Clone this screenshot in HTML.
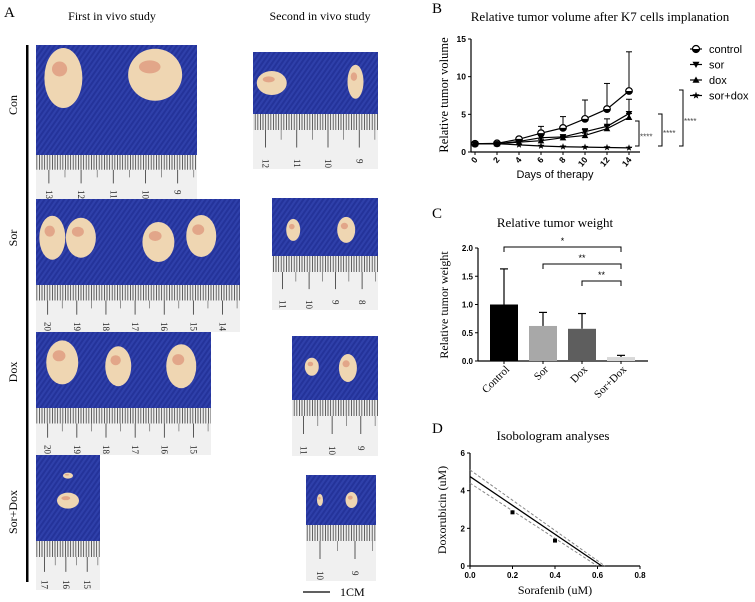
<!DOCTYPE html>
<html><head><meta charset="utf-8">
<style>
html,body{margin:0;padding:0;background:#fff;}
svg{display:block;font-family:"Liberation Serif",serif;}
.sans{font-family:"Liberation Sans",sans-serif;}
</style></head>
<body>
<svg id="fig" width="755" height="602" viewBox="0 0 755 602" xmlns="http://www.w3.org/2000/svg">
<defs>
<pattern id="weave" width="4" height="4" patternUnits="userSpaceOnUse" patternTransform="rotate(35)">
<rect width="4" height="4" fill="#24339a"/><rect width="2" height="4" fill="#2f40aa"/>
</pattern>
<pattern id="mm" width="2.6" height="20" patternUnits="userSpaceOnUse">
<rect width="2.6" height="20" fill="#eeeeee"/><rect width="0.8" height="20" fill="#444"/>
</pattern>
</defs>
<g id="panelA">
<text x="4" y="17" font-size="15">A</text>
<text x="112" y="20" font-size="12" text-anchor="middle">First in vivo study</text>
<text x="320" y="20" font-size="12" text-anchor="middle">Second in vivo study</text>
<rect x="26" y="45" width="2.5" height="537" fill="#000"/>
<text transform="translate(17,105) rotate(-90)" font-size="12" text-anchor="middle">Con</text>
<text transform="translate(17,238) rotate(-90)" font-size="12" text-anchor="middle">Sor</text>
<text transform="translate(17,372) rotate(-90)" font-size="12" text-anchor="middle">Dox</text>
<text transform="translate(17,512) rotate(-90)" font-size="12" text-anchor="middle">Sor+Dox</text>
<line x1="303" y1="592" x2="330" y2="592" stroke="#000" stroke-width="1.2"/>
<text x="340" y="596" font-size="12">1CM</text>
</g>
<g id="panelB"></g>
<g id="panelC"></g>
<g id="panelD"></g>
</svg>
<script>
// ---- Panel B data ----
const daysB = [0,2,4,6,8,10,12,14];
const yTicksB = [0,5,10,15];
const controlVals = [1.1,1.15,1.7,2.5,3.2,4.4,5.7,8.1];
const controlErr = [0.1,0.1,0.2,0.9,1.5,2.5,3.4,5.2];
const sorVals = [1.1,1.1,1.4,1.9,2.0,2.7,3.4,5.1];
const sorErr = [0.1,0.1,0.2,0.3,0.3,0.4,1.0,1.9];
const doxVals = [1.1,1.1,1.3,1.5,1.9,2.2,3.1,4.6];
const doxErr = [0.1,0.1,0.1,0.2,0.2,0.3,0.4,0.5];
const comboVals = [1.1,1.1,0.95,0.8,0.7,0.65,0.6,0.55];
const comboErr = [0.1,0.1,0.1,0.05,0.05,0.05,0.05,0.05];
const legendNames = ["control","sor","dox","sor+dox"];
// ---- Panel C data ----
const catsC = ["Control","Sor","Dox","Sor+Dox"];
const weightVals = [1.0,0.62,0.57,0.07];
const weightErr = [0.63,0.24,0.27,0.03];
const yTicksC = ["0.0","0.5","1.0","1.5","2.0"];
// ---- Panel D data ----
const xTicksD = ["0.0","0.2","0.4","0.6","0.8"];
const yTicksD = [0,2,4,6];
const isoLine = [[0,4.75],[0.62,0]];
const isoUpper = [[0,5.1],[0.635,0]];
const isoLower = [[0,4.4],[0.6,0]];
const comboPtsX = [0.2,0.4];
const comboPtsY = [2.85,1.35];

const NS="http://www.w3.org/2000/svg";
function mk(parent,tag,attrs,text){const e=document.createElementNS(NS,tag);for(const k in attrs)e.setAttribute(k,attrs[k]);if(text!==undefined)e.textContent=text;parent.appendChild(e);return e;}

// ---- Photos ----
const A=document.getElementById('panelA');
function photo(name,x,y,w,bh,rh,tumors,nums){
  const g=mk(A,'g',{});
  
  
  mk(g,'rect',{x:x,y:y,width:w,height:bh,fill:'url(#weave)'});
  tumors.forEach(t=>{
    const el=mk(g,'ellipse',{cx:x+t[0]*w,cy:y+t[1]*bh,rx:t[2],ry:t[3],fill:'#efd6b2'});
    
    
    mk(g,'ellipse',{cx:x+t[0]*w-t[2]*0.2,cy:y+t[1]*bh-t[3]*0.3,rx:t[2]*0.4,ry:t[3]*0.25,fill:'#d0604a',opacity:0.4});
  });
  const th=Math.min(16,rh*0.33);
  mk(g,'rect',{x:x,y:y+bh,width:w,height:th,fill:'url(#mm)'});
  mk(g,'rect',{x:x,y:y+bh+th,width:w,height:rh-th,fill:'#f0f0f0'});
  const n=nums.length, step=w/(n);
  nums.forEach((s,i)=>{
    const lx=x+step*(i+0.4);
    mk(g,'line',{x1:lx,y1:y+bh+th,x2:lx,y2:y+bh+th+(rh-th)*0.45,stroke:'#333','stroke-width':0.8});
    mk(g,'line',{x1:lx+step/2,y1:y+bh+th,x2:lx+step/2,y2:y+bh+th+(rh-th)*0.25,stroke:'#555','stroke-width':0.6});
    mk(g,'text',{transform:`translate(${lx-3},${y+bh+rh-10}) rotate(90)`,'font-size':9,fill:'#222'},s);
  });
}
photo('photo-con-first',36,45,161,110,45,[[0.17,0.3,19,30],[0.74,0.27,27,26]],['13','12','11','10','9']);
photo('photo-sor-first',36,199,204,86,47,[[0.08,0.45,13,22],[0.22,0.45,15,20],[0.6,0.5,16,20],[0.81,0.43,15,21]],['20','19','18','17','16','15','14']);
photo('photo-dox-first',36,332,175,76,47,[[0.15,0.4,16,22],[0.47,0.45,13,20],[0.83,0.45,15,22]],['20','19','18','17','16','15']);
photo('photo-combo-first',36,455,64,86,49,[[0.5,0.24,5,3],[0.5,0.53,11,8]],['17','16','15']);
photo('photo-con-second',253,52,125,62,55,[[0.15,0.5,15,12],[0.82,0.48,8,17]],['12','11','10','9']);
photo('photo-sor-second',272,198,106,58,54,[[0.2,0.55,7,11],[0.7,0.55,9,13]],['11','10','9','8']);
photo('photo-dox-second',292,336,86,64,56,[[0.23,0.48,7,9],[0.65,0.5,9,14]],['11','10','9']);
photo('photo-combo-second',306,475,70,50,56,[[0.2,0.5,3,6],[0.65,0.5,6,8]],['10','9']);

// ---- Panel B ----
const B=document.getElementById('panelB');
const bx0=471,bxE=640,by0=152,by15=39;
const xB=d=>475+(d/14)*(629-475);
const yB=v=>by0-(v/15)*(by0-by15);
mk(B,'text',{x:432,y:13,'font-size':15},'B');
const tB=mk(B,'text',{x:600,y:21,'font-size':13,'text-anchor':'middle'},'Relative tumor volume after K7 cells implanation');

mk(B,'line',{x1:bx0,y1:by15,x2:bx0,y2:by0,stroke:'#000','stroke-width':1.2});
mk(B,'line',{x1:bx0,y1:by0,x2:bxE,y2:by0,stroke:'#000','stroke-width':1.2});
yTicksB.forEach(v=>{
  mk(B,'line',{x1:bx0-3,y1:yB(v),x2:bx0,y2:yB(v),stroke:'#000'});
  const t=mk(B,'text',{x:bx0-5,y:yB(v)+3,'font-size':8.5,'text-anchor':'end','font-weight':'bold',class:'sans'},String(v));
  
});
daysB.forEach(d=>{
  mk(B,'line',{x1:xB(d),y1:by0,x2:xB(d),y2:by0+3,stroke:'#000'});
  const t=mk(B,'text',{transform:`translate(${xB(d)+3},${by0+8}) rotate(-50)`,'font-size':8.5,'text-anchor':'end','font-weight':'bold',class:'sans'},String(d));
  
});
const xlB=mk(B,'text',{x:555,y:178,'font-size':11,'text-anchor':'middle',class:'sans'},'Days of therapy');

const ylB=mk(B,'text',{transform:'translate(448,95) rotate(-90)','font-size':12.5,'text-anchor':'middle'},'Relative tumor volume');

function marker(g,type,x,y,s){
  if(type===0){mk(g,'circle',{cx:x,cy:y,r:s,fill:'#fff',stroke:'#000','stroke-width':1.2});mk(g,'path',{d:`M${x-s} ${y} A${s} ${s} 0 0 0 ${x+s} ${y}Z`,fill:'#000'});}
  else if(type===1)mk(g,'path',{d:`M${x-s} ${y-s*0.8}L${x+s} ${y-s*0.8}L${x} ${y+s}Z`,fill:'#000'});
  else if(type===2)mk(g,'path',{d:`M${x-s} ${y+s*0.8}L${x+s} ${y+s*0.8}L${x} ${y-s}Z`,fill:'#000'});
  else {let p='';for(let i=0;i<10;i++){const r=i%2?s*0.45:s*1.1,a=-Math.PI/2+i*Math.PI/5;p+=(i?'L':'M')+(x+r*Math.cos(a))+' '+(y+r*Math.sin(a));}mk(g,'path',{d:p+'Z',fill:'#000'});}
}
const seriesB=[[controlVals,controlErr],[sorVals,sorErr],[doxVals,doxErr],[comboVals,comboErr]];
seriesB.forEach((s,si)=>{
  const g=mk(B,'g',{});
  
  
  mk(g,'polyline',{points:daysB.map((d,i)=>xB(d)+','+yB(s[0][i])).join(' '),fill:'none',stroke:'#000','stroke-width':1.2});
  daysB.forEach((d,i)=>{
    const top=yB(s[0][i]+s[1][i]);
    mk(g,'line',{x1:xB(d),y1:yB(s[0][i]),x2:xB(d),y2:top,stroke:'#000','stroke-width':1});
    mk(g,'line',{x1:xB(d)-3,y1:top,x2:xB(d)+3,y2:top,stroke:'#000','stroke-width':1});
    marker(g,si,xB(d),yB(s[0][i]),3.3);
  });
});
legendNames.forEach((n,i)=>{
  const y=49+i*15.5;
  const g=mk(B,'g',{});
  
  
  mk(g,'line',{x1:690,y1:y,x2:702,y2:y,stroke:'#000','stroke-width':1.2});
  marker(g,i,696,y,3.5);
  mk(g,'text',{x:709,y:y+4,'font-size':11,class:'sans'},n);
});
[[639,121,146,'****',642],[662,114,146,'****',665],[683,90,146,'****',686]].forEach(b=>{
  const g=mk(B,'g',{});
  
  
  mk(g,'path',{d:`M${b[0]-4} ${b[1]}H${b[0]}V${b[2]}H${b[0]-4}`,fill:'none',stroke:'#000'});
  mk(g,'text',{x:b[4]-2,y:(b[1]+b[2])/2+6,'font-size':8,fill:'#444',class:'sans'},b[3]);
});

// ---- Panel C ----
const C=document.getElementById('panelC');
const cy0=361,cy2=248,cx0=478,cxE=648;
const yC=v=>cy0-(v/2)*(cy0-cy2);
const xC=i=>504+i*39;
mk(C,'text',{x:432,y:218,'font-size':15},'C');
const tC=mk(C,'text',{x:555,y:227,'font-size':13,'text-anchor':'middle'},'Relative tumor weight');

const ylC=mk(C,'text',{transform:'translate(448,305) rotate(-90)','font-size':12,'text-anchor':'middle'},'Relative tumor  weight');

mk(C,'line',{x1:cx0,y1:cy2,x2:cx0,y2:cy0,stroke:'#000','stroke-width':1.2});
mk(C,'line',{x1:cx0,y1:cy0,x2:cxE,y2:cy0,stroke:'#000','stroke-width':1.2});
yTicksC.forEach(s=>{
  const v=parseFloat(s);
  mk(C,'line',{x1:cx0-3,y1:yC(v),x2:cx0,y2:yC(v),stroke:'#000'});
  const t=mk(C,'text',{x:cx0-5,y:yC(v)+3,'font-size':8,'text-anchor':'end','font-weight':'bold',class:'sans'},s);
  
});
const barColors=['#000','#a8a8a8','#5e5e5e','#d8d8d8'];
catsC.forEach((c,i)=>{
  const x=xC(i),v=weightVals[i],e=weightErr[i];
  mk(C,'line',{x1:x,y1:yC(v),x2:x,y2:yC(v+e),stroke:'#000','stroke-width':1.2});
  mk(C,'line',{x1:x-4,y1:yC(v+e),x2:x+4,y2:yC(v+e),stroke:'#000','stroke-width':1.2});
  const r=mk(C,'rect',{x:x-14,y:yC(v),width:28,height:cy0-yC(v),fill:barColors[i]});
  
  
  mk(C,'line',{x1:x,y1:cy0,x2:x,y2:cy0+3,stroke:'#000'});
  const t=mk(C,'text',{transform:`translate(${x+6},${cy0+9}) rotate(-45)`,'font-size':11,'text-anchor':'end'},c);
  
});
[[0,3,247,'*'],[1,3,264,'**'],[2,3,281,'**']].forEach(b=>{
  const g=mk(C,'g',{});
  
  
  mk(g,'path',{d:`M${xC(b[0])} ${b[2]+5}V${b[2]}H${xC(b[1])}V${b[2]+5}`,fill:'none',stroke:'#000','stroke-width':1});
  mk(g,'text',{x:(xC(b[0])+xC(b[1]))/2,y:b[2]-3,'font-size':9,'text-anchor':'middle',class:'sans'},b[3]);
});

// ---- Panel D ----
const D=document.getElementById('panelD');
const dx0=470,dx8=640,dy0=566,dy6=453;
const xD=v=>dx0+(v/0.8)*(dx8-dx0);
const yD=v=>dy0-(v/6)*(dy0-dy6);
mk(D,'text',{x:432,y:433,'font-size':15},'D');
const tD=mk(D,'text',{x:553,y:440,'font-size':13,'text-anchor':'middle'},'Isobologram analyses');

const ylD=mk(D,'text',{transform:'translate(446,510) rotate(-90)','font-size':12,'text-anchor':'middle'},'Doxorubicin (uM)');

const xlD=mk(D,'text',{x:555,y:594,'font-size':12,'text-anchor':'middle'},'Sorafenib (uM)');

mk(D,'line',{x1:dx0,y1:dy6,x2:dx0,y2:dy0,stroke:'#000','stroke-width':1.2});
mk(D,'line',{x1:dx0,y1:dy0,x2:dx8,y2:dy0,stroke:'#000','stroke-width':1.2});
yTicksD.forEach(v=>{
  mk(D,'line',{x1:dx0-3,y1:yD(v),x2:dx0,y2:yD(v),stroke:'#000'});
  const t=mk(D,'text',{x:dx0-5,y:yD(v)+3,'font-size':8,'text-anchor':'end','font-weight':'bold',class:'sans'},String(v));
  
});
xTicksD.forEach(s=>{
  const v=parseFloat(s);
  mk(D,'line',{x1:xD(v),y1:dy0,x2:xD(v),y2:dy0+3,stroke:'#000'});
  const t=mk(D,'text',{x:xD(v),y:dy0+12,'font-size':8,'text-anchor':'middle','font-weight':'bold',class:'sans'},s);
  
});
[[isoUpper,'isobole-upper-ci',true],[isoLower,'isobole-lower-ci',true],[isoLine,'isobole-line',false]].forEach(l=>{
  const el=mk(D,'line',{x1:xD(l[0][0][0]),y1:yD(l[0][0][1]),x2:xD(l[0][1][0]),y2:yD(l[0][1][1]),stroke:l[2]?'#888':'#000','stroke-width':l[2]?1:1.3,'stroke-dasharray':l[2]?'3,2':'none'});
  
  
});
comboPtsX.forEach((x,i)=>{
  const p=mk(D,'rect',{x:xD(x)-2,y:yD(comboPtsY[i])-2,width:4,height:4,fill:'#000'});
  
  
});
</script>
</body></html>
